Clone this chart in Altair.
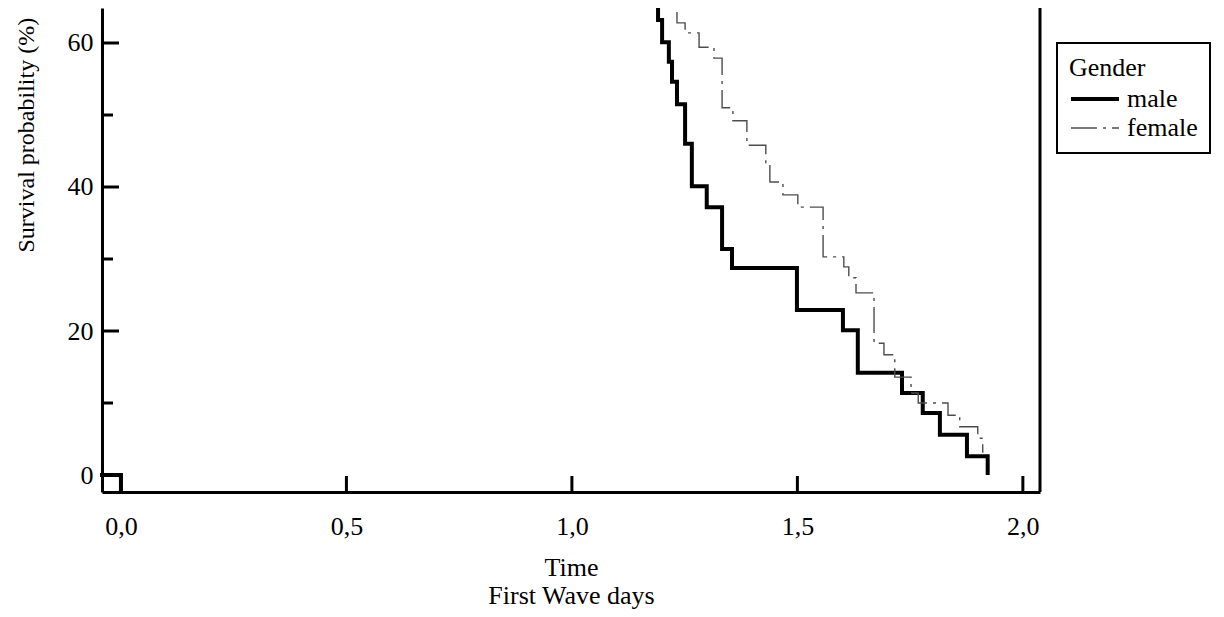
import altair as alt
import pandas as pd

# ---- data ----
genders = ["male", "female"]

male_time = [1.191, 1.191, 1.200, 1.215, 1.222, 1.233, 1.251, 1.266, 1.299, 1.333,
             1.355, 1.499, 1.601, 1.634, 1.732, 1.778, 1.816, 1.876, 1.922]
male_surv = [70.0, 63.2, 60.1, 57.4, 54.6, 51.5, 46.0, 40.1, 37.2, 31.4,
             28.75, 22.9, 20.1, 14.2, 11.4, 8.6, 5.6, 2.6, 0.0]

female_time = [1.233, 1.233, 1.251, 1.282, 1.315, 1.333, 1.357, 1.388, 1.430, 1.439,
               1.468, 1.501, 1.557, 1.603, 1.614, 1.630, 1.670, 1.692, 1.716, 1.752,
               1.768, 1.834, 1.860, 1.900, 1.911]
female_surv = [70.0, 62.8, 61.4, 59.4, 57.9, 51.0, 49.2, 45.8, 43.1, 40.7,
               38.9, 37.2, 30.3, 28.9, 27.4, 25.3, 18.3, 16.7, 13.6, 11.4,
               10.0, 8.3, 6.7, 5.1, 3.1]

origin_time = [-0.042, 0.0, 0.0]
origin_surv = [0.0, 0.0, -2.36]

x_ticks = [0.0, 0.5, 1.0, 1.5, 2.0]
y_major = [0, 20, 40, 60]
y_minor = [10, 30, 50]

x_domain = [-0.042, 2.038]
y_domain = [-2.36, 64.86]

# ---- tables ----
rows = []
for i, (t, s) in enumerate(zip(male_time, male_surv)):
    rows.append({"t": t, "s": s, "gender": "male", "idx": i})
for i, (t, s) in enumerate(zip(female_time, female_surv)):
    rows.append({"t": t, "s": s, "gender": "female", "idx": i})
curves_df = pd.DataFrame(rows)
origin_df = pd.DataFrame({"t": origin_time, "s": origin_surv, "idx": list(range(len(origin_time)))})
xt_df = pd.DataFrame({"t": x_ticks})
ymaj_df = pd.DataFrame({"s": y_major})
ymin_df = pd.DataFrame({"s": y_minor})

W, H = 938, 484
FONT = "Liberation Serif"

xscale = alt.Scale(domain=x_domain, nice=False, zero=False)
yscale = alt.Scale(domain=y_domain, nice=False, zero=False)

x_axis = alt.Axis(
    values=x_ticks,
    labelExpr="replace(format(datum.value, '.1f'), '.', ',')",
    labelPadding=21,
    title=["Time", "First Wave days"],
    titleBaseline="top", titleY=62, titleLineHeight=28, titleFontSize=26,
)
y_axis = alt.Axis(
    values=y_major, labelPadding=9,
    title="Survival probability (%)",
    titleAngle=270, titleAlign="left", titleBaseline="middle",
    titleX=-76, titleY=244, titleFontSize=24,
)

legend = alt.Legend(
    title="Gender", orient="none", legendX=955, legendY=35,
    strokeColor="black", padding=12,
    symbolType="M-1,0H2.2", symbolSize=900,
    labelOffset=24, rowPadding=-2, titlePadding=1,
)

curves = alt.Chart(curves_df).mark_line(interpolate="step-after", clip=True).encode(
    x=alt.X("t:Q", scale=xscale, axis=x_axis),
    y=alt.Y("s:Q", scale=yscale, axis=y_axis),
    color=alt.Color("gender:N", scale=alt.Scale(domain=genders, range=["#000000", "#4d4d4d"]), legend=legend),
    strokeWidth=alt.StrokeWidth("gender:N", scale=alt.Scale(domain=genders, range=[4, 1.4]), legend=legend),
    strokeDash=alt.StrokeDash("gender:N", scale=alt.Scale(domain=genders, range=[[1, 0], [26, 6, 3, 6]]), legend=legend),
    order="idx:Q",
)

origin = alt.Chart(origin_df).mark_line(color="black", strokeWidth=4, strokeCap="square").encode(
    x=alt.X("t:Q", scale=xscale, axis=x_axis),
    y=alt.Y("s:Q", scale=yscale, axis=y_axis),
    order="idx:Q",
)

xticks = alt.Chart(xt_df).mark_rule(color="black", strokeWidth=3).encode(
    x=alt.X("t:Q", scale=xscale, axis=x_axis),
    y=alt.value(H), y2=alt.value(H - 16),
)
yticks_major = alt.Chart(ymaj_df).mark_rule(color="black", strokeWidth=3).encode(
    y=alt.Y("s:Q", scale=yscale, axis=y_axis),
    x=alt.value(0), x2=alt.value(17),
)
yticks_minor = alt.Chart(ymin_df).mark_rule(color="black", strokeWidth=3).encode(
    y=alt.Y("s:Q", scale=yscale, axis=y_axis),
    x=alt.value(0), x2=alt.value(11),
)
frame = alt.Chart(pd.DataFrame({"a": [0]})).mark_rule(color="black", strokeWidth=3).encode(
    x=alt.value(W), y=alt.value(0), y2=alt.value(H),
)

chart = alt.layer(curves, origin, xticks, yticks_major, yticks_minor, frame).properties(
    width=W, height=H,
    autosize=alt.AutoSizeParams(type="none"),
    padding={"left": 94, "top": 0, "right": 176, "bottom": 117},
).configure_view(stroke=None).configure_axis(
    domainColor="black", domainWidth=3, grid=False, ticks=False, tickSize=0,
    labelFont=FONT, labelFontSize=26, labelColor="black",
    titleFont=FONT, titleFontSize=26, titleColor="black", titleFontWeight="normal",
).configure_legend(
    labelFont=FONT, labelFontSize=26, labelColor="black",
    titleFont=FONT, titleFontSize=26, titleColor="black", titleFontWeight="normal",
    strokeWidth=2,
)

chart.save("out.html", embed_options={"renderer": "svg", "actions": False})
